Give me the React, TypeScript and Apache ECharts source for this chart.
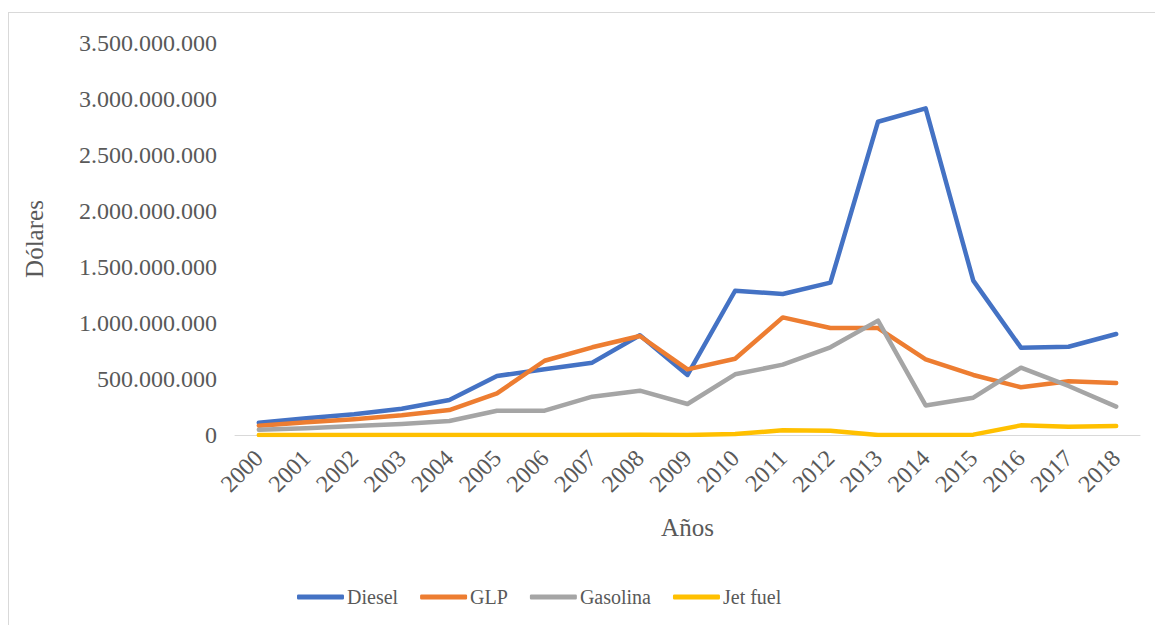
import React, { useEffect, useRef } from "react";
import * as echarts from "echarts";

const years = ["2000","2001","2002","2003","2004","2005","2006","2007","2008","2009","2010","2011","2012","2013","2014","2015","2016","2017","2018"];
const diesel = [110e6,150e6,185e6,235e6,313e6,527e6,587e6,646e6,890e6,536e6,1288e6,1259e6,1360e6,2797e6,2917e6,1378e6,780e6,788e6,902e6];
const glp = [83e6,113e6,140e6,176e6,223e6,372e6,663e6,783e6,884e6,586e6,681e6,1050e6,955e6,955e6,676e6,536e6,426e6,479e6,464e6];
const gasolina = [47e6,60e6,80e6,98e6,125e6,217e6,217e6,342e6,396e6,277e6,542e6,628e6,783e6,1021e6,264e6,333e6,601e6,438e6,253e6];
const jetFuel = [0,0,0,0,0,0,0,0,3e6,0,9e6,42e6,38e6,0,0,3e6,86e6,74e6,80e6];

const FONT = "Liberation Serif";
const TXT = "#595959";

function fmt(v: number): string {
  return Math.round(v).toString().replace(/\B(?=(\d{3})+(?!\d))/g, ".");
}

export default function App() {
  const ref = useRef<HTMLDivElement>(null);
  useEffect(() => {
    if (!ref.current) return;
    const chart = echarts.init(ref.current, null, { renderer: "svg" });
    const mk = (name: string, data: number[], color: string) => ({
      name,
      type: "line",
      data,
      symbol: "none",
      lineStyle: { width: 4.5, color, cap: "round", join: "round" },
      itemStyle: { color },
    });
    chart.setOption({
      animation: false,
      textStyle: { fontFamily: FONT },
      grid: { left: 235, right: 15, top: 43, bottom: 190, containLabel: false },
      legend: {
        left: 297,
        top: 587,
        padding: 0,
        icon: "roundRect",
        itemWidth: 47,
        itemHeight: 5,
        itemGap: 22,
        textStyle: { fontFamily: FONT, fontSize: 20, color: TXT, padding: [0, 0, 0, -2] },
        data: ["Diesel", "GLP", "Gasolina", "Jet fuel"],
      },
      xAxis: {
        type: "category",
        data: years,
        boundaryGap: true,
        name: "Años",
        nameLocation: "middle",
        nameGap: 80,
        nameTextStyle: { fontFamily: FONT, fontSize: 25, color: TXT },
        axisLine: { lineStyle: { color: "#D9D9D9", width: 1 } },
        axisTick: { show: false },
        axisLabel: { rotate: 45, fontFamily: FONT, fontSize: 24, color: TXT, margin: 19, interval: 0 },
      },
      yAxis: {
        type: "value",
        min: 0,
        max: 3500000000,
        interval: 500000000,
        name: "Dólares",
        nameLocation: "middle",
        nameGap: 188,
        nameTextStyle: { fontFamily: FONT, fontSize: 25, color: TXT },
        axisLine: { show: false },
        axisTick: { show: false },
        splitLine: { show: false },
        axisLabel: { formatter: (v: number) => fmt(v), fontFamily: FONT, fontSize: 24, color: TXT, margin: 18 },
      },
      series: [
        mk("Diesel", diesel, "#4472C4"),
        mk("GLP", glp, "#ED7D31"),
        mk("Gasolina", gasolina, "#A5A5A5"),
        mk("Jet fuel", jetFuel, "#FFC000"),
      ],
    });
    return () => chart.dispose();
  }, []);
  return (
    <div style={{ position: "fixed", left: 0, top: 0, width: 1155, height: 625, background: "#fff" }}>
      <div style={{ position: "absolute", left: 8, top: 12, width: 1200, height: 700, borderLeft: "1px solid #D9D9D9", borderTop: "1px solid #D9D9D9" }} />
      <div ref={ref} style={{ position: "absolute", left: 0, top: 0, width: 1155, height: 625 }} />
    </div>
  );
}
